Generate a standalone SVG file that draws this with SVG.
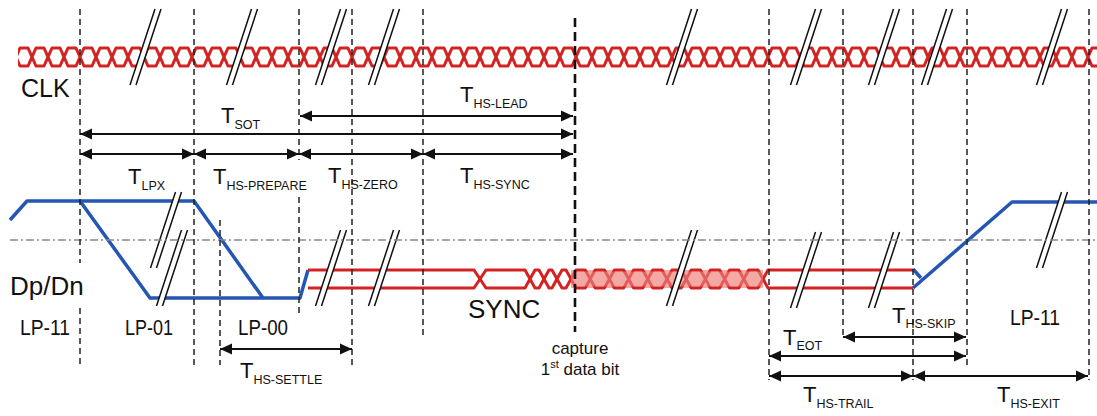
<svg xmlns="http://www.w3.org/2000/svg" width="1097" height="416" viewBox="0 0 1097 416">
<style>
.vd{stroke:#222;stroke-width:1.5;stroke-dasharray:6 4;fill:none}
.cap{stroke:#111;stroke-width:2.6;stroke-dasharray:9 5;fill:none}
.dim{stroke:#111;stroke-width:1.8;fill:none;marker-start:url(#ah);marker-end:url(#ah)}
.red{stroke:#d42222;stroke-width:3;fill:none;stroke-linejoin:round}
.blue{stroke:#2456b4;stroke-width:3.5;fill:none;stroke-linejoin:round}
.dd{stroke:#888;stroke-width:1.3;stroke-dasharray:8 3 2 3;fill:none}
.t{font-family:"Liberation Sans",Arial,sans-serif;fill:#111}
.big{font-size:22px}
.sub{font-size:12.5px}
.lp{font-size:22px}
</style>
<defs>
<marker id="ah" markerUnits="userSpaceOnUse" markerWidth="12" markerHeight="12" refX="12" refY="6" orient="auto-start-reverse" viewBox="0 0 12 12"><path d="M0,0.5 L12,6 L0,11.5 z" fill="#111"/></marker>
<pattern id="clkp" patternUnits="userSpaceOnUse" x="0" y="40" width="16" height="35">
<path d="M-4,26 L4,8 L12,8 L20,26 M-4,8 L4,26 L12,26 L20,8" stroke="#d42222" stroke-width="3" fill="none" stroke-linejoin="round"/>
</pattern>
<g id="brk"><polygon points="-15.5,38 9.5,-38 15.5,-38 -9.5,38" fill="#fff"/><path d="M-15.5,38 L9.5,-38 M-9.5,38 L15.5,-38" stroke="#111" stroke-width="1.5"/></g>
</defs>
<rect width="1097" height="416" fill="#fff"/>

<g id="clk">
<rect x="18" y="40" width="1079" height="35" fill="url(#clkp)"/>
</g>

<g id="dpdn">
<path class="blue" d="M10,220 L27,201 L194,201 L263,298 L300,298 L308,270"/>
<path class="blue" d="M80,201 L150,298 L263,298"/>
<path class="blue" d="M913,269 L921,278 M913,288 L1012,202 L1097,202"/>
<rect x="571" y="270" width="192" height="18" fill="#f4aaa5"/>
<path class="red" d="M308,270 L474,270 L486,288 L525,288 L535,270 L539,270 L549,288 L552,288 L562,270 L566,270 L576,288 L585.2,288 L595.2,270 L604.4,270 L614.4,288 L623.6,288 L633.6,270 L642.8,270 L652.8,288 L662,288 L672,270 L681.2,270 L691.2,288 L700.4,288 L710.4,270 L719.6,270 L729.6,288 L738.8,288 L748.8,270 L758,270 L768,288 L913,288"/>
<path class="red" d="M308,288 L474,288 L486,270 L525,270 L535,288 L539,288 L549,270 L552,270 L562,288 L566,288 L576,270 L585.2,270 L595.2,288 L604.4,288 L614.4,270 L623.6,270 L633.6,288 L642.8,288 L652.8,270 L662,270 L672,288 L681.2,288 L691.2,270 L700.4,270 L710.4,288 L719.6,288 L729.6,270 L738.8,270 L748.8,288 L758,288 L768,270 L913,270"/>
<rect x="571" y="271.6" width="192" height="14.8" fill="#f4aaa5" opacity="0.45"/>
</g>

<g id="breaks">
<use href="#brk" x="145.5" y="47"/>
<use href="#brk" x="242" y="47"/>
<use href="#brk" x="331" y="47"/>
<use href="#brk" x="384" y="47"/>
<use href="#brk" x="682" y="47"/>
<use href="#brk" x="806" y="47"/>
<use href="#brk" x="884" y="47"/>
<use href="#brk" x="937" y="47"/>
<use href="#brk" x="1052" y="47"/>
<use href="#brk" x="166" y="230"/>
<use href="#brk" x="172" y="268"/>
<use href="#brk" x="331" y="268"/>
<use href="#brk" x="384" y="268"/>
<use href="#brk" x="682" y="268"/>
<use href="#brk" x="806" y="270"/>
<use href="#brk" x="884" y="270"/>
<use href="#brk" x="1052" y="230"/>
</g>

<g id="grid">
<path class="dd" d="M10,240 H1097"/>
<path class="vd" d="M80,9 V263 M80,308 V365 M194,9 V365 M220,220 V365 M299,9 V160 M299,197 V313 M352,9 V365 M423,9 V335 M769,9 V380 M843,9 V337 M913,9 V380 M967,9 V365 M1089,9 V380"/>
<path class="cap" d="M575,18 V332"/>
</g>

<g id="connectors">
<line class="dim" x1="300" y1="116" x2="573" y2="116"/>
<line class="dim" x1="80" y1="134" x2="573" y2="134"/>
<line class="dim" x1="80" y1="154" x2="194" y2="154"/>
<line class="dim" x1="194" y1="154" x2="299" y2="154"/>
<line class="dim" x1="299" y1="154" x2="423" y2="154"/>
<line class="dim" x1="423" y1="154" x2="573" y2="154"/>
<line class="dim" x1="220" y1="349" x2="352" y2="349"/>
<line class="dim" x1="843" y1="337" x2="966" y2="337"/>
<line class="dim" x1="769" y1="356" x2="966" y2="356"/>
<line class="dim" x1="769" y1="376" x2="913" y2="376"/>
<line class="dim" x1="913" y1="376" x2="1088" y2="376"/>
</g>

<g id="labels">
<text class="t" x="21" y="97" font-size="25">CLK</text>
<text class="t" x="10" y="295" font-size="26">Dp/Dn</text>
<text class="t lp" x="20" y="335" textLength="50" lengthAdjust="spacingAndGlyphs">LP-11</text>
<text class="t lp" x="125" y="335" textLength="48" lengthAdjust="spacingAndGlyphs">LP-01</text>
<text class="t lp" x="238" y="335" textLength="50" lengthAdjust="spacingAndGlyphs">LP-00</text>
<text class="t lp" x="1010" y="325" textLength="50" lengthAdjust="spacingAndGlyphs">LP-11</text>
<text class="t" x="468" y="318" font-size="26">SYNC</text>
<text class="t" x="580" y="354" font-size="17" text-anchor="middle">capture</text>
<text class="t" x="580" y="375" font-size="17" text-anchor="middle">1<tspan font-size="11" dy="-7">st</tspan><tspan dy="7"> data bit</tspan></text>
<text class="t big" x="221" y="123">T<tspan class="sub" dy="6">SOT</tspan></text>
<text class="t big" x="460" y="102">T<tspan class="sub" dy="6">HS-LEAD</tspan></text>
<text class="t big" x="128" y="184">T<tspan class="sub" dy="6">LPX</tspan></text>
<text class="t big" x="213" y="184">T<tspan class="sub" dy="6">HS-PREPARE</tspan></text>
<text class="t big" x="328" y="183">T<tspan class="sub" dy="6">HS-ZERO</tspan></text>
<text class="t big" x="460" y="183">T<tspan class="sub" dy="6">HS-SYNC</tspan></text>
<text class="t big" x="240" y="378">T<tspan class="sub" dy="6">HS-SETTLE</tspan></text>
<text class="t big" x="783" y="345">T<tspan class="sub" dy="5">EOT</tspan></text>
<text class="t big" x="892" y="323">T<tspan class="sub" dy="5">HS-SKIP</tspan></text>
<text class="t big" x="803" y="402">T<tspan class="sub" dy="6">HS-TRAIL</tspan></text>
<text class="t big" x="997" y="402">T<tspan class="sub" dy="6">HS-EXIT</tspan></text>
</g>
</svg>
